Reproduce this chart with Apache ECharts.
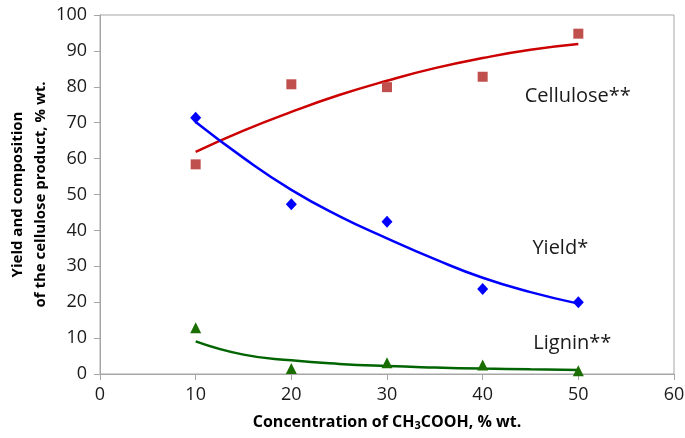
<!DOCTYPE html>
<html>
<head>
<meta charset="utf-8">
<script src="https://cdn.jsdelivr.net/npm/echarts@6/dist/echarts.min.js"></script>
<style>
  html, body { margin: 0; padding: 0; background: #fff; }
  #chart { width: 685px; height: 438px; }
</style>
</head>
<body>
<div id="chart"></div>
<script>
// Acetic acid concentration, % wt.
const concentration = [10, 20, 30, 40, 50];

// Measured values, % wt.
const cellulose = [58.4, 80.7, 79.9, 82.8, 94.8];
const yieldVals = [71.4, 47.3, 42.4, 23.7, 20.0];
const lignin    = [12.9, 1.5, 3.1, 2.5, 0.9];

// Trend curves, sampled every 5 % wt.
const trendX         = [10, 15, 20, 25, 30, 35, 40, 45, 50];
const celluloseTrend = [61.9, 67.8, 73.0, 77.7, 81.7, 85.2, 88.0, 90.3, 91.9];
const yieldTrend     = [70.2, 60.2, 51.3, 44.0, 37.8, 32.0, 26.8, 22.8, 19.6];
const ligninTrend    = [9.1, 5.4, 3.8, 2.8, 2.2, 1.8, 1.5, 1.3, 1.1];

// Tick values
const xTicks = [0, 10, 20, 30, 40, 50, 60];
const yTicks = [0, 10, 20, 30, 40, 50, 60, 70, 80, 90, 100];

const pairs = (xs, ys) => xs.map((x, i) => [x, ys[i]]);

const FONT = '"Open Sans", "Noto Sans", sans-serif';
const AXIS_GRAY = '#A6A6A6';

const chart = echarts.init(document.getElementById('chart'), null, { renderer: 'canvas' });

const option = {
  animation: false,
  backgroundColor: '#ffffff',
  grid: {
    left: 100, right: 11, top: 15, bottom: 64,
    outerBoundsMode: 'none', containLabel: false,
    show: true, borderColor: AXIS_GRAY, borderWidth: 1, backgroundColor: 'transparent'
  },
  xAxis: {
    type: 'value',
    min: xTicks[0], max: xTicks[xTicks.length - 1], interval: 10,
    axisLine: { show: true, lineStyle: { color: AXIS_GRAY, width: 1 } },
    axisTick: { show: true, inside: false, length: 6, lineStyle: { color: AXIS_GRAY } },
    splitLine: { show: false },
    axisLabel: { color: '#1a1a1a', fontFamily: FONT, fontSize: 18, margin: 12 },
    name: '{a|Concentration of CH}{s|3}{a|COOH, % wt.}',
    nameLocation: 'middle',
    nameGap: 38,
    nameMoveOverlap: false,
    nameTextStyle: {
      rich: {
        a: { fontFamily: FONT, fontSize: 16, fontWeight: 'bold', color: '#000', lineHeight: 20 },
        s: { fontFamily: FONT, fontSize: 11, fontWeight: 'bold', color: '#000', lineHeight: 20, padding: [8, 0, 0, 0] }
      }
    }
  },
  yAxis: {
    type: 'value',
    min: yTicks[0], max: yTicks[yTicks.length - 1], interval: 10,
    axisLine: { show: true, lineStyle: { color: AXIS_GRAY, width: 1 } },
    axisTick: { show: true, inside: false, length: 6, lineStyle: { color: AXIS_GRAY } },
    splitLine: { show: false },
    axisLabel: { color: '#1a1a1a', fontFamily: FONT, fontSize: 18, margin: 13 },
    name: 'Yield and composition\nof the cellulose product, % wt.',
    nameLocation: 'middle',
    nameRotate: 90,
    nameGap: 48,
    nameMoveOverlap: false,
    nameTextStyle: { fontFamily: FONT, fontSize: 15, fontWeight: 'bold', color: '#000', lineHeight: 23 }
  },
  series: [
    {
      name: 'Cellulose trend', type: 'line', data: pairs(trendX, celluloseTrend),
      smooth: true, showSymbol: false, z: 2,
      lineStyle: { color: '#CC0000', width: 2.5 }
    },
    {
      name: 'Yield trend', type: 'line', data: pairs(trendX, yieldTrend),
      smooth: true, showSymbol: false, z: 2,
      lineStyle: { color: '#0000FF', width: 2.5 }
    },
    {
      name: 'Lignin trend', type: 'line', data: pairs(trendX, ligninTrend),
      smooth: true, showSymbol: false, z: 2,
      lineStyle: { color: '#006400', width: 2.5 }
    },
    {
      name: 'Cellulose', type: 'scatter', data: pairs(concentration, cellulose),
      symbol: 'rect', symbolSize: 10, z: 3,
      itemStyle: { color: '#C0504D', opacity: 1 }
    },
    {
      name: 'Yield', type: 'scatter', data: pairs(concentration, yieldVals),
      symbol: 'diamond', symbolSize: [11, 12], z: 3,
      itemStyle: { color: '#0000FF', opacity: 1 }
    },
    {
      name: 'Lignin', type: 'scatter', data: pairs(concentration, lignin),
      symbol: 'triangle', symbolSize: [11, 11], z: 3,
      itemStyle: { color: '#1A6E00', opacity: 1 }
    }
  ]
};

chart.setOption(option);

// Series captions placed in data coordinates
const captions = [
  { text: 'Cellulose**', at: [44.4, 77.4] },
  { text: 'Yield*',      at: [45.2, 35.1] },
  { text: 'Lignin**',    at: [45.3, 8.6] }
];
chart.setOption({
  graphic: captions.map(c => {
    const p = chart.convertToPixel({ gridIndex: 0 }, c.at);
    return {
      type: 'text', x: p[0], y: p[1], z: 10,
      style: {
        text: c.text, fontFamily: FONT, fontSize: 20, fill: '#1a1a1a',
        textAlign: 'left', textVerticalAlign: 'middle', verticalAlign: 'middle'
      }
    };
  })
});
</script>
</body>
</html>
